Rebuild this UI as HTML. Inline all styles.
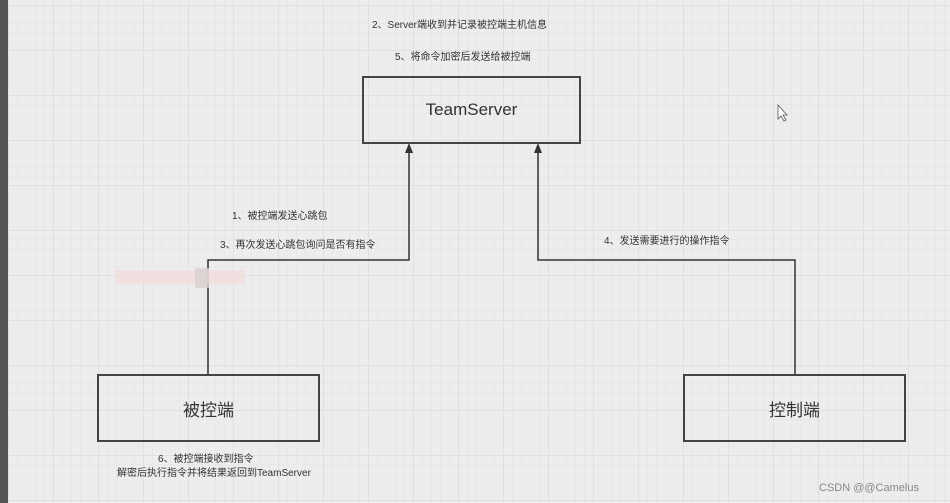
<!DOCTYPE html>
<html><head><meta charset="utf-8"><style>
html,body{margin:0;padding:0}
body{width:950px;height:503px;position:relative;overflow:hidden;background-color:#ededed;
background-image:linear-gradient(#e0e0e0 1px,transparent 1px),linear-gradient(90deg,#e0e0e0 1px,transparent 1px),linear-gradient(#e8e8e8 1px,transparent 1px),linear-gradient(90deg,#e8e8e8 1px,transparent 1px);
background-size:45px 45px,45px 45px,9px 9px,9px 9px;background-position:8px 5px;
font-family:"Liberation Sans","Noto Sans CJK SC",sans-serif;color:#333}
.t{position:absolute;font-size:10px;white-space:nowrap}
.box{position:absolute;border:2px solid #444;box-sizing:border-box;display:flex;align-items:center;justify-content:center;font-size:17px;color:#333}
</style></head><body>
<div style="position:absolute;left:0;top:0;width:8px;height:503px;background:#555"></div>
<svg width="950" height="503" style="position:absolute;left:0;top:0">
<polyline points="208,374 208,260 409,260 409,150" fill="none" stroke="#333" stroke-width="1.5"/>
<polyline points="795,374 795,260 538,260 538,150" fill="none" stroke="#333" stroke-width="1.5"/>
<path d="M405,153 L409,143 L413,153 Z" fill="#333"/>
<path d="M534,153 L538,143 L542,153 Z" fill="#333"/>
<rect x="115" y="270" width="130" height="14" fill="#f0dcdc" opacity="0.8"/>
<rect x="195" y="268" width="14" height="20" fill="#d8d0d0" opacity="0.8"/>
<path d="M778,105 L778,119 L781,116 L784,121 L786,120 L783,115 L787,115 Z" fill="#fff" stroke="#555" stroke-width="0.8"/>
</svg>
<div class="t" style="left:372px;top:16px">2、Server端收到并记录被控端主机信息</div>
<div class="t" style="left:395px;top:48px">5、将命令加密后发送给被控端</div>
<div class="box" style="left:362px;top:76px;width:219px;height:68px">TeamServer</div>
<div class="t" style="left:232px;top:207px">1、被控端发送心跳包</div>
<div class="t" style="left:220px;top:236px">3、再次发送心跳包询问是否有指令</div>
<div class="t" style="left:604px;top:232px">4、发送需要进行的操作指令</div>
<div class="box" style="left:97px;top:374px;width:223px;height:68px">被控端</div>
<div class="box" style="left:683px;top:374px;width:223px;height:68px">控制端</div>
<div class="t" style="left:158px;top:450px">6、被控端接收到指令</div>
<div class="t" style="left:117px;top:464px">解密后执行指令并将结果返回到TeamServer</div>
<div class="t" style="left:819px;top:482px;font-size:11px;color:#888">CSDN @@Camelus</div>
</body></html>
